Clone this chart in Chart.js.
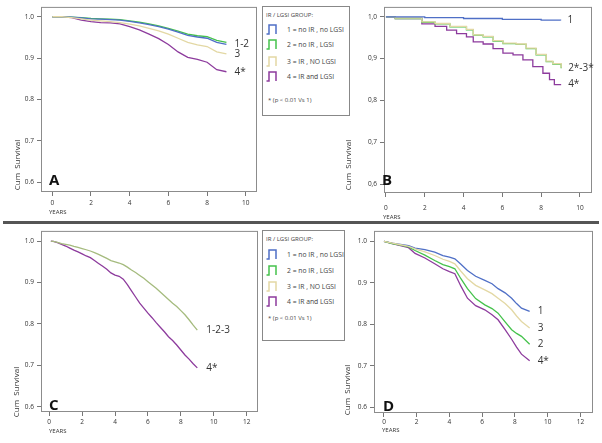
<!DOCTYPE html>
<html>
<head>
<meta charset="utf-8">
<script src="https://cdn.jsdelivr.net/npm/chart.js@4.4.0/dist/chart.umd.min.js"></script>
<style>
  body { margin: 0; background: #fff; width: 602px; height: 443px; position: relative; overflow: hidden; font-family: "Open Sans", sans-serif; }
  canvas { position: absolute; }
  .ytitle { position: absolute; font-size: 8px; color: #333; white-space: nowrap; transform: translate(-50%, -50%) rotate(-90deg); }
  .years { position: absolute; font-size: 6px; color: #333; }
  .letter { position: absolute; font-size: 15px; font-weight: bold; color: #111; line-height: 1; }
  .legend { position: absolute; border: 1px solid #888; background: #fff; font-size: 6.8px; color: #444; }
  .legend .row { position: absolute; left: 3px; height: 10px; white-space: nowrap; }
  .legend .row svg { position: absolute; left: 0; top: 0; }
  .legend .row span { position: absolute; left: 21px; top: 1px; }
  .legend .head { font-size: 6px; }
  .sep { position: absolute; left: 3px; top: 221px; width: 596px; height: 3px; background: #555; }
</style>
</head>
<body>
<canvas id="chartA" width="260" height="222" style="left:0;top:0"></canvas>
<canvas id="chartB" width="262" height="222" style="left:340px;top:0"></canvas>
<canvas id="chartC" width="260" height="219" style="left:0;top:224px"></canvas>
<canvas id="chartD" width="262" height="219" style="left:340px;top:224px"></canvas>

<div class="sep"></div>

<div class="ytitle" style="left:16px;top:165px">Cum&nbsp; Survival</div>
<div class="ytitle" style="left:347px;top:165px">Cum&nbsp; Survival</div>
<div class="ytitle" style="left:15px;top:392px">Cum&nbsp; Survival</div>
<div class="ytitle" style="left:346px;top:390px">Cum&nbsp; Survival</div>

<div class="years" style="left:49px;top:208px">YEARS</div>
<div class="years" style="left:383px;top:213px">YEARS</div>
<div class="years" style="left:49px;top:427px">YEARS</div>
<div class="years" style="left:382px;top:426px">YEARS</div>

<div class="letter" style="left:49px;top:172px">A</div>
<div class="letter" style="left:382px;top:172px">B</div>
<div class="letter" style="left:49px;top:397px">C</div>
<div class="letter" style="left:383px;top:398px">D</div>

<div class="legend" id="legTop" style="left:262px;top:6px;width:86px;height:108px"></div>
<div class="legend" id="legBottom" style="left:262px;top:230px;width:81px;height:109px"></div>

<script>
// Tick labels
const yTicks = [0.6, 0.7, 0.8, 0.9, 1.0];
const xTicksAB = [0, 2, 4, 6, 8, 10];
const xTicksCD = [0, 2, 4, 6, 8, 10, 12];

// Legend
const groupLabels = ['1 = no IR , no LGSI', '2 = no IR , LGSI', '3 = IR , NO LGSI', '4 = IR and LGSI'];
const groupColors = ['#4f6fc6', '#45c24c', '#e3d8a4', '#8d3b9d'];
const mergedColor = '#a5bb7e';

// Panel A
const aTime   = [0, 0.5, 1, 1.5, 2, 2.5, 3, 3.5, 4, 4.5, 5, 5.5, 6, 6.5, 7, 7.5, 8, 8.5, 9];
const aBlue   = [1, 1, 0.999, 0.997, 0.995, 0.994, 0.993, 0.992, 0.989, 0.985, 0.981, 0.976, 0.970, 0.963, 0.955, 0.951, 0.948, 0.938, 0.933];
const aGreen  = [1, 1, 0.999, 0.998, 0.996, 0.995, 0.994, 0.993, 0.990, 0.987, 0.983, 0.978, 0.972, 0.965, 0.958, 0.954, 0.952, 0.943, 0.938];
const aYellow = [1, 1, 0.998, 0.995, 0.992, 0.990, 0.988, 0.986, 0.982, 0.978, 0.972, 0.966, 0.958, 0.948, 0.938, 0.932, 0.928, 0.915, 0.910];
const aPurple = [1, 1, 0.998, 0.992, 0.988, 0.986, 0.985, 0.983, 0.976, 0.968, 0.958, 0.947, 0.933, 0.915, 0.902, 0.897, 0.890, 0.872, 0.867];

// Panel B
const bBlueTime  = [0, 2, 4, 6, 8, 9];
const bBlue      = [1, 0.998, 0.996, 0.994, 0.992, 0.991];
const bGreenTime = [0, 0.48, 1.85, 2.53, 3.30, 4.15, 4.50, 5.01, 5.52, 6.03, 6.72, 7.23, 7.74, 8.26, 8.60, 9.03];
const bGreen     = [1, 0.996, 0.987, 0.983, 0.976, 0.969, 0.956, 0.952, 0.942, 0.936, 0.934, 0.924, 0.909, 0.893, 0.887, 0.877];
const bYellow    = [1, 0.997, 0.988, 0.984, 0.977, 0.970, 0.957, 0.953, 0.943, 0.937, 0.935, 0.925, 0.910, 0.894, 0.888, 0.878];
const bPurpleTime = [0, 0.48, 1.85, 2.53, 3.13, 3.64, 4.15, 4.50, 5.01, 5.52, 6.03, 6.55, 7.06, 7.57, 8.09, 8.43, 8.68, 9.03];
const bPurple     = [1, 0.996, 0.983, 0.977, 0.968, 0.960, 0.952, 0.940, 0.935, 0.924, 0.913, 0.909, 0.897, 0.881, 0.865, 0.850, 0.838, 0.838];

// Panel C
const cTime   = [0.1, 0.25, 0.5, 0.75, 1, 1.25, 1.5, 1.75, 2, 2.25, 2.5, 2.75, 3, 3.25, 3.5, 3.75, 4, 4.25, 4.5, 4.75, 5, 5.25, 5.5, 5.75, 6, 6.25, 6.5, 6.75, 7, 7.25, 7.5, 7.75, 8, 8.25, 8.5, 8.75, 9];
const cMerged = [1, 0.999, 0.997, 0.994, 0.992, 0.990, 0.987, 0.985, 0.982, 0.979, 0.976, 0.972, 0.968, 0.963, 0.958, 0.953, 0.950, 0.947, 0.943, 0.937, 0.930, 0.924, 0.917, 0.910, 0.902, 0.894, 0.886, 0.877, 0.868, 0.859, 0.850, 0.842, 0.832, 0.822, 0.810, 0.797, 0.785];
const cPurple = [1, 0.999, 0.996, 0.992, 0.988, 0.983, 0.978, 0.974, 0.969, 0.964, 0.960, 0.953, 0.946, 0.939, 0.932, 0.923, 0.918, 0.915, 0.908, 0.895, 0.880, 0.865, 0.850, 0.838, 0.826, 0.815, 0.803, 0.792, 0.781, 0.769, 0.760, 0.749, 0.737, 0.725, 0.715, 0.704, 0.694];

// Panel D
const dTime   = [0, 0.5, 1, 1.5, 1.9, 2.5, 3.1, 3.6, 4.0, 4.33, 4.7, 5.1, 5.6, 6.16, 6.6, 6.97, 7.4, 7.8, 8.1, 8.4, 8.9];
const dBlue   = [1, 0.996, 0.993, 0.990, 0.984, 0.980, 0.974, 0.966, 0.962, 0.958, 0.945, 0.930, 0.916, 0.906, 0.898, 0.886, 0.876, 0.863, 0.850, 0.839, 0.831];
const dYellow = [1, 0.996, 0.992, 0.988, 0.982, 0.975, 0.966, 0.957, 0.952, 0.946, 0.928, 0.910, 0.894, 0.883, 0.874, 0.863, 0.850, 0.835, 0.820, 0.807, 0.791];
const dGreen  = [1, 0.995, 0.991, 0.987, 0.978, 0.967, 0.954, 0.944, 0.939, 0.934, 0.910, 0.886, 0.862, 0.847, 0.838, 0.827, 0.806, 0.787, 0.778, 0.771, 0.752];
const dPurple = [1, 0.995, 0.990, 0.985, 0.971, 0.960, 0.946, 0.934, 0.927, 0.922, 0.892, 0.863, 0.845, 0.835, 0.823, 0.811, 0.787, 0.764, 0.745, 0.728, 0.712];

function pts(t, s) { return t.map((v, i) => ({x: v, y: s[i]})); }

function series(t, s, color, label, stepped) {
  return { data: pts(t, s), borderColor: color, borderWidth: 1.3, stepped: !!stepped, tension: 0, pointRadius: 0, endLabel: label };
}

// Legends (HTML)
function buildLegend(el, rowTops, footTop) {
  let html = '<div class="row head" style="top:3px"><span style="left:0">IR / LGSI GROUP:</span></div>';
  groupLabels.forEach((g, i) => {
    html += '<div class="row" style="top:' + rowTops[i] + 'px"><svg width="14" height="11">' +
      '<path d="M0.5 10 H3 V1 H10 V10" fill="none" stroke="' + groupColors[i] + '" stroke-width="1.5"/></svg>' +
      '<span>' + g + '</span></div>';
  });
  html += '<div class="row head" style="top:' + footTop + 'px"><span style="left:2px">* (p &lt; 0.01 Vs 1)</span></div>';
  el.innerHTML = html;
}
buildLegend(document.getElementById('legTop'), [17, 32, 49, 64], 88);
buildLegend(document.getElementById('legBottom'), [18, 34, 50, 65], 82);

// Frame + curve end labels
const framePlugin = {
  id: 'frame',
  afterDraw(chart) {
    const ctx = chart.ctx, a = chart.chartArea;
    ctx.save();
    ctx.strokeStyle = '#8c8c8c';
    ctx.lineWidth = 1;
    ctx.strokeRect(a.left + 0.5, a.top + 0.5, a.right - a.left - 1, a.bottom - a.top - 1);
    ctx.font = '10px "Open Sans"';
    ctx.fillStyle = '#333';
    ctx.textBaseline = 'middle';
    chart.data.datasets.forEach((ds, i) => {
      if (!ds.endLabel) return;
      const el = chart.getDatasetMeta(i).data;
      const p = el[el.length - 1];
      ctx.fillText(ds.endLabel, p.x + chart.options.labelDx, p.y + (ds.labelDy || 0));
    });
    ctx.restore();
  }
};

function makePanel(id, datasets, o) {
  new Chart(document.getElementById(id).getContext('2d'), {
    type: 'line',
    data: { datasets: datasets },
    plugins: [framePlugin],
    options: {
      responsive: false,
      animation: false,
      labelDx: o.labelDx,
      layout: { padding: { top: o.top, right: o.right, left: 0, bottom: 0 } },
      plugins: { legend: { display: false }, tooltip: { enabled: false } },
      scales: {
        x: {
          type: 'linear', min: o.xMin, max: o.xMax,
          afterBuildTicks: s => { s.ticks = o.xTicks.map(v => ({value: v})); },
          afterFit: s => { s.height = o.xH; },
          grid: { drawOnChartArea: false, drawTicks: true, tickLength: 4, color: '#777' },
          border: { display: false },
          ticks: { font: { size: 6.5, family: 'Open Sans' }, color: '#333', padding: o.xPad, maxRotation: 0, autoSkip: false }
        },
        y: {
          type: 'linear', min: o.yMin, max: o.yMax,
          afterBuildTicks: s => { s.ticks = yTicks.map(v => ({value: v})); },
          afterFit: s => { s.width = o.yW; },
          grid: { drawOnChartArea: false, drawTicks: true, tickLength: 4, color: '#777' },
          border: { display: false },
          ticks: { font: { size: 6.5, family: 'Open Sans' }, color: '#333', padding: 3,
                   callback: v => o.comma ? v.toFixed(1).replace('.', ',') : v.toFixed(1) }
        }
      }
    }
  });
}

makePanel('chartA', [
  series(aTime, aYellow, groupColors[2], '3'),
  series(aTime, aBlue, groupColors[0], '1-2'),
  series(aTime, aGreen, groupColors[1], null),
  series(aTime, aPurple, groupColors[3], '4*')
], { top: 4, right: 3, yW: 41, xH: 30, xMin: -0.584, xMax: 10.58, yMin: 0.5762, yMax: 1.0238, xTicks: xTicksAB, xPad: 3, labelDx: 8, comma: false });

makePanel('chartB', [
  series(bBlueTime, bBlue, groupColors[0], '1', true),
  series(bGreenTime, bYellow, groupColors[2], null, true),
  series(bGreenTime, bGreen, groupColors[1], '2*-3*', true),
  series(bPurpleTime, bPurple, groupColors[3], '4*', true)
], { top: 5, right: 10, yW: 44, xH: 29, xMin: -0.10, xMax: 10.62, yMin: 0.5787, yMax: 1.0237, xTicks: xTicksAB, xPad: 7, labelDx: 7, comma: true });

makePanel('chartC', [
  series(cTime, cMerged, mergedColor, '1-2-3'),
  series(cTime, cPurple, groupColors[3], '4*')
], { top: 4, right: 2, yW: 41, xH: 31, xMin: -0.50, xMax: 12.69, yMin: 0.5874, yMax: 1.0245, xTicks: xTicksCD, xPad: 2, labelDx: 9, comma: false });

makePanel('chartD', [
  series(dTime, dYellow, groupColors[2], '3'),
  series(dTime, dGreen, groupColors[1], '2'),
  series(dTime, dPurple, groupColors[3], '4*'),
  series(dTime, dBlue, groupColors[0], '1')
], { top: 4, right: 9, yW: 34, xH: 30, xMin: -0.61, xMax: 12.77, yMin: 0.586, yMax: 1.0254, xTicks: xTicksCD, xPad: 1, labelDx: 8, comma: false });
</script>
</body>
</html>
